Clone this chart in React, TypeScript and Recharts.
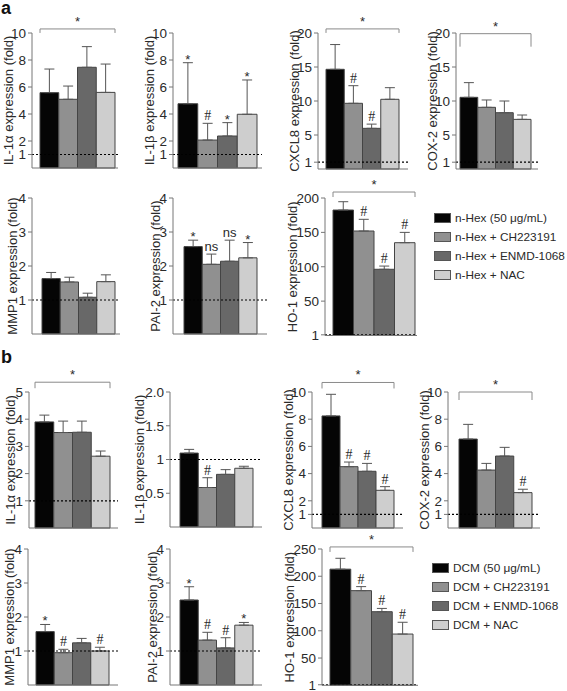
import React from 'react';
import { BarChart, Bar, XAxis, YAxis, ReferenceLine, ErrorBar, LabelList, Legend } from 'recharts';

const FONT = '"Liberation Sans", Arial, Helvetica, sans-serif';
const SERIF = '"Liberation Serif", "Times New Roman", serif';
const FILLS = ['#050505', '#909090', '#686868', '#cecece'];
const EDGE = '#444';
const AXIS = '#777';
const TEXT = '#2a2a2a';

const GROUPS_A = ['n-Hex (50 μg/mL)', 'n-Hex + CH223191', 'n-Hex + ENMD-1068', 'n-Hex + NAC'];
const GROUPS_B = ['DCM (50 μg/mL)', 'DCM + CH223191', 'DCM + ENMD-1068', 'DCM + NAC'];

// ---- a: n-Hex ----
const A_IL1A_MEAN = [5.58, 5.09, 7.46, 5.6];
const A_IL1A_SEM = [1.75, 0.98, 1.53, 2.1];
const A_IL1A_MARK = ['', '', '', ''];

const A_IL1B_MEAN = [4.76, 2.07, 2.37, 3.98];
const A_IL1B_SEM = [3.04, 1.24, 0.99, 2.54];
const A_IL1B_MARK = ['*', '#', '*', '*'];

const A_CXCL8_MEAN = [14.66, 9.66, 5.98, 10.25];
const A_CXCL8_SEM = [3.64, 2.59, 0.62, 1.71];
const A_CXCL8_MARK = ['', '#', '#', ''];

const A_COX2_MEAN = [10.54, 9.07, 8.28, 7.3];
const A_COX2_SEM = [2.16, 1.08, 1.72, 0.64];
const A_COX2_MARK = ['', '', '', ''];

const A_MMP1_MEAN = [1.63, 1.53, 1.08, 1.54];
const A_MMP1_SEM = [0.18, 0.14, 0.12, 0.2];
const A_MMP1_MARK = ['', '', '', ''];

const A_PAI2_MEAN = [2.57, 2.05, 2.14, 2.24];
const A_PAI2_SEM = [0.19, 0.3, 0.62, 0.45];
const A_PAI2_MARK = ['*', 'ns', 'ns', '*'];

const A_HO1_MEAN = [182.5, 152, 96.3, 135];
const A_HO1_SEM = [12.1, 17, 4.7, 15];
const A_HO1_MARK = ['', '#', '#', '#'];

// ---- b: DCM ----
const B_IL1A_MEAN = [3.9, 3.51, 3.52, 2.64];
const B_IL1A_SEM = [0.25, 0.42, 0.41, 0.19];
const B_IL1A_MARK = ['', '', '', ''];

const B_IL1B_MEAN = [1.095, 0.585, 0.78, 0.87];
const B_IL1B_SEM = [0.055, 0.145, 0.07, 0.03];
const B_IL1B_MARK = ['', '#', '', ''];

const B_CXCL8_MEAN = [8.24, 4.51, 4.17, 2.77];
const B_CXCL8_SEM = [1.59, 0.34, 0.58, 0.27];
const B_CXCL8_MARK = ['', '#', '#', '#'];

const B_COX2_MEAN = [6.54, 4.26, 5.29, 2.6];
const B_COX2_SEM = [1.08, 0.49, 0.64, 0.25];
const B_COX2_MARK = ['', '', '', '#'];

const B_MMP1_MEAN = [1.57, 0.95, 1.24, 1.0];
const B_MMP1_SEM = [0.21, 0.1, 0.13, 0.11];
const B_MMP1_MARK = ['*', '#', '', '#'];

const B_PAI2_MEAN = [2.5, 1.32, 1.09, 1.76];
const B_PAI2_SEM = [0.39, 0.23, 0.3, 0.08];
const B_PAI2_MARK = ['*', '#', '#', '*'];

const B_HO1_MEAN = [213, 173.6, 135, 94];
const B_HO1_SEM = [20, 7.4, 6, 21.6];
const B_HO1_MARK = ['', '#', '#', '#'];

// y ticks
const TICKS_10 = [1, 2, 4, 6, 8, 10];
const TICKS_20 = [1, 5, 10, 15, 20];
const TICKS_4 = [1, 2, 3, 4];
const TICKS_5 = [1, 2, 3, 4, 5];
const TICKS_2 = [0.5, 1, 1.5, 2];
const TICKS_200 = [1, 50, 100, 150, 200];
const TICKS_250 = [1, 50, 100, 150, 200, 250];

type PanelDef = {
  title: string;
  groups: string[];
  means: number[];
  sems: number[];
  marks: string[];
  max: number;
  ticks: number[];
  fmt?: (v: number) => string;
  // layout (page px)
  axisX: number;
  labelDx: number;
  topY: number;
  zeroY: number;
  right: number;
  barLeft: number;
  barRight: number;
  bracket?: { value: number; drop: number };
  legend?: { left: number; top: number };
};

const PANELS: PanelDef[] = [
  { title: 'IL-1α expression (fold)', groups: GROUPS_A, means: A_IL1A_MEAN, sems: A_IL1A_SEM, marks: A_IL1A_MARK, max: 10, ticks: TICKS_10,
    axisX: 32, labelDx: 24, topY: 33, zeroY: 168, right: 118, barLeft: 40, barRight: 115, bracket: { value: 10.3, drop: 4 } },
  { title: 'IL-1β expression (fold)', groups: GROUPS_A, means: A_IL1B_MEAN, sems: A_IL1B_SEM, marks: A_IL1B_MARK, max: 10, ticks: TICKS_10,
    axisX: 173, labelDx: 24, topY: 33, zeroY: 168, right: 262, barLeft: 178, barRight: 257 },
  { title: 'CXCL8 expression (fold)', groups: GROUPS_A, means: A_CXCL8_MEAN, sems: A_CXCL8_SEM, marks: A_CXCL8_MARK, max: 20, ticks: TICKS_20,
    axisX: 318, labelDx: 24, topY: 33, zeroY: 169, right: 408, barLeft: 326, barRight: 399, bracket: { value: 20.6, drop: 4 } },
  { title: 'COX-2 expression (fold)', groups: GROUPS_A, means: A_COX2_MEAN, sems: A_COX2_SEM, marks: A_COX2_MARK, max: 20, ticks: TICKS_20,
    axisX: 456, labelDx: 24, topY: 33, zeroY: 169, right: 538, barLeft: 460, barRight: 531, bracket: { value: 19.9, drop: 13 } },
  { title: 'MMP1 expression (fold)', groups: GROUPS_A, means: A_MMP1_MEAN, sems: A_MMP1_SEM, marks: A_MMP1_MARK, max: 4, ticks: TICKS_4,
    axisX: 32, labelDx: 20, topY: 198, zeroY: 334, right: 120, barLeft: 42, barRight: 115 },
  { title: 'PAI-2 expression (fold)', groups: GROUPS_A, means: A_PAI2_MEAN, sems: A_PAI2_SEM, marks: A_PAI2_MARK, max: 4, ticks: TICKS_4,
    axisX: 173, labelDx: 18, topY: 198, zeroY: 334, right: 267, barLeft: 184, barRight: 257 },
  { title: 'HO-1 expression (fold)', groups: GROUPS_A, means: A_HO1_MEAN, sems: A_HO1_SEM, marks: A_HO1_MARK, max: 200, ticks: TICKS_200,
    axisX: 325, labelDx: 33, topY: 198, zeroY: 335.5, right: 417, barLeft: 333, barRight: 415, bracket: { value: 208.7, drop: 5 },
    legend: { left: 149, top: 40 } },

  { title: 'IL-1α expression (fold)', groups: GROUPS_B, means: B_IL1A_MEAN, sems: B_IL1A_SEM, marks: B_IL1A_MARK, max: 5, ticks: TICKS_5,
    axisX: 29, labelDx: 19, topY: 392, zeroY: 528, right: 118, barLeft: 35, barRight: 110, bracket: { value: 5.36, drop: 6 } },
  { title: 'IL-1β expression (fold)', groups: GROUPS_B, means: B_IL1B_MEAN, sems: B_IL1B_SEM, marks: B_IL1B_MARK, max: 2, ticks: TICKS_2,
    fmt: (v) => (v === 2 ? '2.0' : String(v)),
    axisX: 170, labelDx: 31, topY: 392, zeroY: 527, right: 262, barLeft: 180, barRight: 253 },
  { title: 'CXCL8 expression (fold)', groups: GROUPS_B, means: B_CXCL8_MEAN, sems: B_CXCL8_SEM, marks: B_CXCL8_MARK, max: 10, ticks: TICKS_10,
    axisX: 312, labelDx: 24, topY: 392, zeroY: 528, right: 403, barLeft: 322, barRight: 394, bracket: { value: 10.7, drop: 6 } },
  { title: 'COX-2 expression (fold)', groups: GROUPS_B, means: B_COX2_MEAN, sems: B_COX2_SEM, marks: B_COX2_MARK, max: 10, ticks: TICKS_10,
    axisX: 448, labelDx: 24, topY: 392, zeroY: 528, right: 540, barLeft: 459, barRight: 532, bracket: { value: 10, drop: 8 } },
  { title: 'MMP1 expression (fold)', groups: GROUPS_B, means: B_MMP1_MEAN, sems: B_MMP1_SEM, marks: B_MMP1_MARK, max: 4, ticks: TICKS_4,
    axisX: 28, labelDx: 19, topY: 549, zeroY: 685, right: 118, barLeft: 36, barRight: 109 },
  { title: 'PAI-2 expression (fold)', groups: GROUPS_B, means: B_PAI2_MEAN, sems: B_PAI2_SEM, marks: B_PAI2_MARK, max: 4, ticks: TICKS_4,
    axisX: 170, labelDx: 18, topY: 549, zeroY: 685, right: 262, barLeft: 180, barRight: 253 },
  { title: 'HO-1 expression (fold)', groups: GROUPS_B, means: B_HO1_MEAN, sems: B_HO1_SEM, marks: B_HO1_MARK, max: 250, ticks: TICKS_250,
    axisX: 322, labelDx: 33, topY: 549, zeroY: 685.3, right: 418, barLeft: 330, barRight: 413, bracket: { value: 253.8, drop: 5 },
    legend: { left: 150, top: 39 } },
];

// significance marks + bracket, placed with the bar's own pixel scale
function markContent(p: PanelDef, i: number) {
  return (props: any) => {
    const vb = props.viewBox ?? props;
    const { x, y, width, height } = vb;
    if (x == null || !height) return null;
    const ppu = height / p.means[i];
    const capY = y - p.sems[i] * ppu;
    const cx = x + width / 2;
    const mark = p.marks[i];
    const parts: React.ReactNode[] = [];
    if (mark === '#') {
      parts.push(<text key="m" x={cx} y={capY - 3} textAnchor="middle" fontFamily={SERIF} fontSize={14} fill={TEXT}>#</text>);
    } else if (mark === 'ns') {
      parts.push(<text key="m" x={cx} y={capY - 3} textAnchor="middle" fontFamily={FONT} fontSize={13} fill={TEXT}>ns</text>);
    } else if (mark === '*') {
      parts.push(<text key="m" x={cx} y={capY + 1} textAnchor="middle" fontFamily={FONT} fontSize={13} fill={TEXT}>*</text>);
    }
    if (i === 0 && p.bracket) {
      const base = y + height;
      const by = base - p.bracket.value * ppu;
      const x1 = x;
      const x2 = x + 4 * width;
      parts.push(
        <path key="b" d={`M${x1},${by + p.bracket.drop}V${by}H${x2}V${by + p.bracket.drop}`} stroke="#8a8a8a" strokeWidth={1} fill="none" />,
        <text key="s" x={(x1 + x2) / 2} y={by - 3} textAnchor="middle" fontFamily={FONT} fontSize={13} fill={TEXT}>*</text>
      );
    }
    return <g>{parts}</g>;
  };
}

const renderLegend = (props: any) => (
  <div style={{ fontFamily: FONT, fontSize: 11.8, color: TEXT }}>
    {(props.payload ?? []).map((e: any, i: number) => (
      <div key={i} style={{ display: 'flex', alignItems: 'center', height: 19 }}>
        <span style={{ display: 'inline-block', width: 17, height: 10, background: e.color, border: '1px solid #555', boxSizing: 'border-box', marginRight: 4 }} />
        <span style={{ whiteSpace: 'nowrap' }}>{e.value}</span>
      </div>
    ))}
  </div>
);

function Panel({ p }: { p: PanelDef }) {
  const left = p.axisX - 40;
  const top = p.topY - 30;
  const height = 30 + (p.zeroY - p.topY) + 8;
  const width = (p.legend ? 567 : p.right + 4) - left;
  const marginRight = width - (p.right - left);
  const c = (p.barLeft + p.barRight) / 2;
  const mid = (p.axisX + p.right) / 2;
  const padding = c >= mid
    ? { left: 2 * c - p.axisX - p.right, right: 0 }
    : { left: 0, right: p.axisX + p.right - 2 * c };
  const barSize = (p.barRight - p.barLeft) / 4;
  const row: Record<string, any> = { g: 'all' };
  p.means.forEach((m, i) => {
    row['m' + i] = m;
    row['e' + i] = [0, p.sems[i]];
  });
  return (
    <div style={{ position: 'absolute', left, top }}>
      <BarChart width={width} height={height} data={[row]} margin={{ top: 30, right: marginRight, bottom: 0, left: 0 }} barGap={0} barSize={barSize}>
        <XAxis dataKey="g" height={8} tick={false} tickSize={5} stroke={AXIS} padding={padding} />
        <YAxis
          type="number"
          domain={[0, p.max]}
          ticks={p.ticks}
          interval={0}
          tickFormatter={p.fmt ?? ((v: number) => String(v))}
          width={40}
          stroke={AXIS}
          tickSize={4}
          tick={{ fill: TEXT, fontSize: 13.5, fontFamily: FONT }}
          label={{ value: p.title, angle: -90, position: 'insideLeft', offset: 40 - p.labelDx, style: { textAnchor: 'middle', fill: TEXT, fontSize: 13, fontFamily: FONT } }}
        />
        {p.means.map((_, i) => (
          <Bar key={i} dataKey={'m' + i} name={p.groups[i]} fill={FILLS[i]} stroke={EDGE} strokeWidth={1} isAnimationActive={false}>
            <ErrorBar dataKey={'e' + i} width={5} stroke="#555" strokeWidth={1} direction="y" />
            <LabelList dataKey={'m' + i} content={markContent(p, i)} />
          </Bar>
        ))}
        <ReferenceLine y={1} stroke="#000" strokeDasharray="2 2" strokeWidth={1.2} />
        {p.legend && (
          <Legend layout="vertical" align="center" verticalAlign="middle" content={renderLegend}
            wrapperStyle={{ left: p.legend.left, top: p.legend.top, width: 132 }} />
        )}
      </BarChart>
    </div>
  );
}

export default function App() {
  return (
    <div style={{ position: 'absolute', left: 0, top: 0, width: 567, height: 691, background: '#fff', fontFamily: FONT }}>
      <div style={{ position: 'absolute', left: 1, top: 0, fontSize: 18, lineHeight: '16px', fontWeight: 700, color: '#111' }}>a</div>
      <div style={{ position: 'absolute', left: 1, top: 349, fontSize: 18, lineHeight: '16px', fontWeight: 700, color: '#111' }}>b</div>
      {PANELS.map((p, i) => (
        <Panel key={i} p={p} />
      ))}
    </div>
  );
}
